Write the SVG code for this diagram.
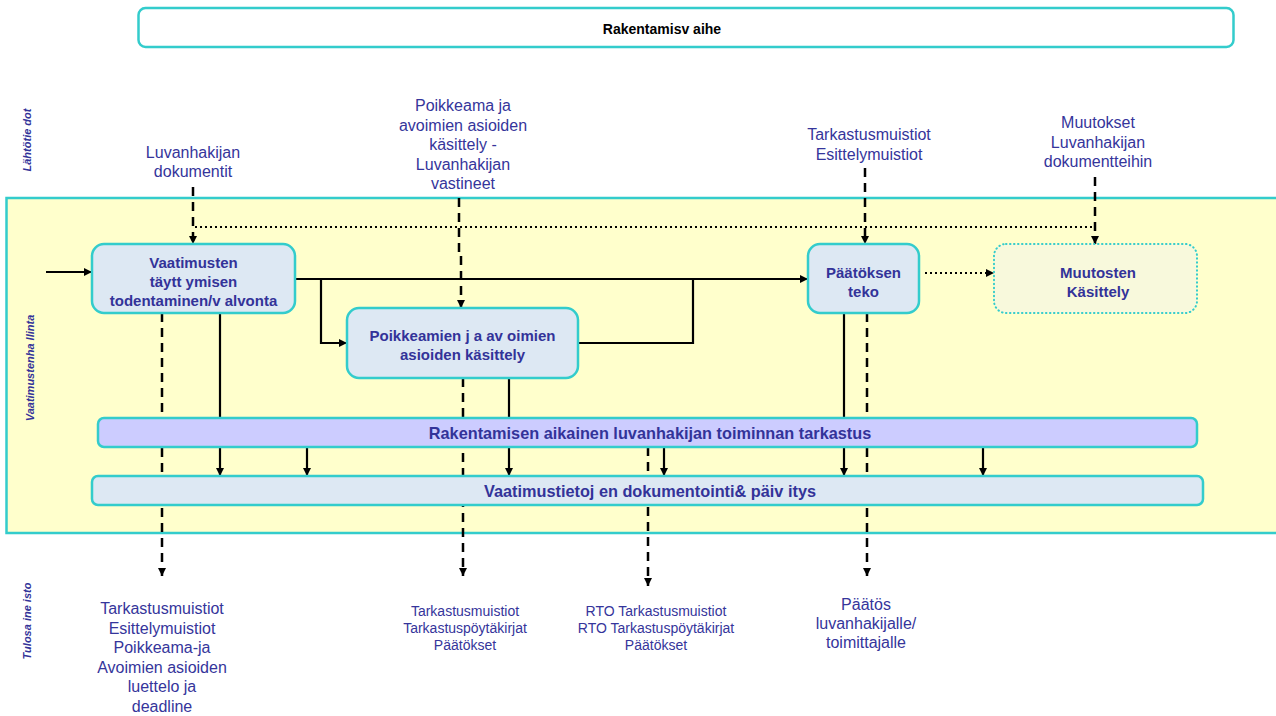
<svg xmlns="http://www.w3.org/2000/svg" width="1276" height="716" viewBox="0 0 1276 716">
  <style>
    .lbl { font-family: "Liberation Sans", Arial, sans-serif; font-size: 16px; fill: #35359b; text-anchor: middle; }
    .lbl-s { font-family: "Liberation Sans", Arial, sans-serif; font-size: 14px; fill: #35359b; text-anchor: middle; }
    .node-t { font-family: "Liberation Sans", Arial, sans-serif; font-size: 15px; font-weight: bold; fill: #333399; text-anchor: middle; }
    .bar-t { font-family: "Liberation Sans", Arial, sans-serif; font-size: 16.3px; font-weight: bold; fill: #333399; text-anchor: middle; }
    .side { font-family: "Liberation Sans", Arial, sans-serif; font-size: 11px; font-weight: bold; font-style: italic; fill: #333399; text-anchor: middle; }
    .title-t { font-family: "Liberation Sans", Arial, sans-serif; font-size: 14px; font-weight: bold; fill: #000; text-anchor: middle; }
    .box { fill: #dde8f3; stroke: #33cccc; stroke-width: 2.5; }
    .solid { fill: none; stroke: #000; stroke-width: 2.2; }
    .dash { fill: none; stroke: #000; stroke-width: 2.5; stroke-dasharray: 9 6; }
    .dot { fill: none; stroke: #000; stroke-width: 2; stroke-dasharray: 2 3; }
  </style>
  <defs>
    <marker id="arr" markerUnits="userSpaceOnUse" markerWidth="9" markerHeight="8" refX="8" refY="4" orient="auto">
      <path d="M0,0 L8,4 L0,8 Z" fill="#000"/>
    </marker>
  </defs>

  <rect width="1276" height="716" fill="#fff"/>

  <!-- title -->
  <g id="title">
    <rect x="138.5" y="8" width="1095" height="39" rx="7" fill="#fff" stroke="#33cccc" stroke-width="2.5"/>
    <text class="title-t" x="662" y="34">Rakentamisv aihe</text>
  </g>

  <!-- swimlane band -->
  <g id="lane">
    <rect x="6.5" y="198" width="1275" height="335" fill="#ffffcc" stroke="#33cccc" stroke-width="2.5"/>
  </g>

  <!-- lane labels -->
  <g id="side-labels">
    <text class="side" transform="translate(31,140) rotate(-90)">Lähtötie dot</text>
    <text class="side" transform="translate(34,368) rotate(-90)">Vaatimustenha llinta</text>
    <text class="side" transform="translate(31,621) rotate(-90)">Tulosa ine isto</text>
  </g>

  <!-- input / output labels -->
  <g id="inputs">
    <text class="lbl" x="193" y="158">Luvanhakijan</text>
    <text class="lbl" x="193" y="177">dokumentit</text>

    <text class="lbl" x="463" y="111">Poikkeama ja</text>
    <text class="lbl" x="463" y="131">avoimien asioiden</text>
    <text class="lbl" x="463" y="150">käsittely -</text>
    <text class="lbl" x="463" y="170">Luvanhakijan</text>
    <text class="lbl" x="463" y="189">vastineet</text>

    <text class="lbl" x="869" y="140">Tarkastusmuistiot</text>
    <text class="lbl" x="869" y="160">Esittelymuistiot</text>

    <text class="lbl" x="1098" y="128">Muutokset</text>
    <text class="lbl" x="1098" y="148">Luvanhakijan</text>
    <text class="lbl" x="1098" y="167">dokumentteihin</text>
  </g>

  <g id="outputs">
    <text class="lbl" x="162" y="614">Tarkastusmuistiot</text>
    <text class="lbl" x="162" y="634">Esittelymuistiot</text>
    <text class="lbl" x="162" y="653">Poikkeama-ja</text>
    <text class="lbl" x="162" y="673">Avoimien asioiden</text>
    <text class="lbl" x="162" y="692">luettelo ja</text>
    <text class="lbl" x="162" y="712">deadline</text>

    <text class="lbl-s" x="465" y="616">Tarkastusmuistiot</text>
    <text class="lbl-s" x="465" y="633">Tarkastuspöytäkirjat</text>
    <text class="lbl-s" x="465" y="650">Päätökset</text>

    <text class="lbl-s" x="656" y="616">RTO Tarkastusmuistiot</text>
    <text class="lbl-s" x="656" y="633">RTO Tarkastuspöytäkirjat</text>
    <text class="lbl-s" x="656" y="650">Päätökset</text>

    <text class="lbl" x="866" y="610">Päätös</text>
    <text class="lbl" x="866" y="629">luvanhakijalle/</text>
    <text class="lbl" x="866" y="648">toimittajalle</text>
  </g>

  <!-- connectors -->
  <g id="connectors">
    <!-- solid flow -->
    <path class="solid" d="M46,272 H92" marker-end="url(#arr)"/>
    <path class="solid" d="M295,279 H808" marker-end="url(#arr)"/>
    <path class="solid" d="M321,279 V343 H347" marker-end="url(#arr)"/>
    <path class="solid" d="M578,343 H693 V279"/>
    <path class="solid" d="M220,313 V476" marker-end="url(#arr)"/>
    <path class="solid" d="M307,447 V476" marker-end="url(#arr)"/>
    <path class="solid" d="M509,378 V476" marker-end="url(#arr)"/>
    <path class="solid" d="M664,447 V476" marker-end="url(#arr)"/>
    <path class="solid" d="M844,313 V476" marker-end="url(#arr)"/>
    <path class="solid" d="M983,447 V476" marker-end="url(#arr)"/>

    <!-- dashed information flows -->
    <path class="dash" d="M193,187 V244" marker-end="url(#arr)"/>
    <path class="dash" d="M459,198 V253 H461 V308" marker-end="url(#arr)"/>
    <path class="dash" d="M865,168 V244" marker-end="url(#arr)"/>
    <path class="dash" d="M1095,177 V244" marker-end="url(#arr)"/>
    <path class="dash" d="M162,313 V576" marker-end="url(#arr)"/>
    <path class="dash" d="M463,378 V576" marker-end="url(#arr)"/>
    <path class="dash" d="M648,447 V586" marker-end="url(#arr)"/>
    <path class="dash" d="M867,313 V576" marker-end="url(#arr)"/>

    <!-- dotted change flows -->
    <path class="dot" d="M195,227 H1095"/>
    <path class="dot" d="M925,273 H994" marker-end="url(#arr)"/>
  </g>

  <!-- process nodes -->
  <g id="n-valvonta">
    <rect class="box" x="92" y="244" width="203" height="69" rx="12"/>
    <text class="node-t" x="193.5" y="268">Vaatimusten</text>
    <text class="node-t" x="193.5" y="287">täytt ymisen</text>
    <text class="node-t" x="193.5" y="306">todentaminen/v alvonta</text>
  </g>

  <g id="n-poikkeamat">
    <rect class="box" x="347" y="308" width="231" height="70" rx="12"/>
    <text class="node-t" x="462.5" y="341">Poikkeamien j a av oimien</text>
    <text class="node-t" x="462.5" y="360">asioiden käsittely</text>
  </g>

  <g id="n-paatos">
    <rect class="box" x="808" y="244" width="111" height="69" rx="12"/>
    <text class="node-t" x="863.5" y="278">Päätöksen</text>
    <text class="node-t" x="863.5" y="297">teko</text>
  </g>

  <g id="n-muutokset">
    <rect x="994" y="244" width="203" height="69" rx="12" fill="#f8f9dc" stroke="#33cccc" stroke-width="2" stroke-dasharray="0.5 3.5" stroke-linecap="round"/>
    <text class="node-t" x="1098" y="278">Muutosten</text>
    <text class="node-t" x="1098" y="297">Käsittely</text>
  </g>

  <g id="n-tarkastus">
    <rect x="98" y="418" width="1099" height="29" rx="6" fill="#ccccff" stroke="#33cccc" stroke-width="2.5"/>
    <text class="bar-t" x="650" y="438.5">Rakentamisen aikainen luvanhakijan toiminnan tarkastus</text>
  </g>

  <g id="n-dokumentointi">
    <rect class="box" x="92" y="476" width="1111" height="29" rx="6"/>
    <text class="bar-t" x="650" y="496.5">Vaatimustietoj en dokumentointi&amp; päiv itys</text>
  </g>
</svg>
